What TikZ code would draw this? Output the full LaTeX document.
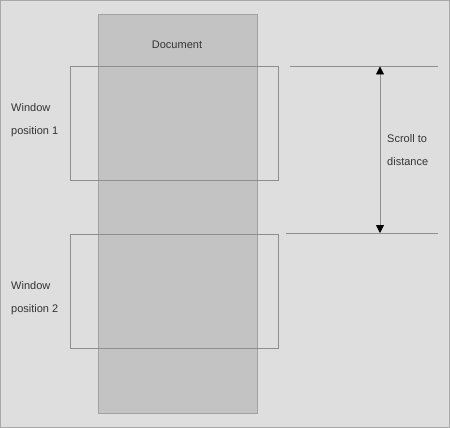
\documentclass[tikz,border=0pt]{standalone}
\usepackage{fontspec}
\setmainfont{Liberation Sans}
\usetikzlibrary{arrows.meta, positioning}

\definecolor{bg}{HTML}{DEDEDE}
\definecolor{frame}{HTML}{A8A8A8}
\definecolor{docfill}{HTML}{C3C3C3}
\definecolor{docline}{HTML}{A2A2A2}
\definecolor{winline}{HTML}{8E8E8E}
\definecolor{txt}{HTML}{333333}

\begin{document}
\begin{tikzpicture}[
    x=1pt, y=-1pt,
    page/.style={draw=frame, fill=bg, line width=1pt},
    doc/.style={draw=docline, fill=docfill, line width=1pt, minimum width=159pt, minimum height=399pt, inner sep=0pt},
    window/.style={draw=winline, line width=0.8pt, minimum width=208pt, minimum height=114pt, inner sep=0pt},
    label/.style={font=\fontsize{11}{23}\selectfont, text=txt, align=left, inner sep=0pt},
    guide/.style={draw=winline, line width=0.8pt},
    measure/.style={guide, {Triangle[length=8pt, width=8pt, fill=black, color=black]}-{Triangle[length=8pt, width=8pt, fill=black, color=black]}}
]
    \useasboundingbox (0,0) rectangle (450,428);
    \draw[page] (0.5,0.5) rectangle (449.5,427.5);

    % 文档
    \node[doc, anchor=north west] (doc) at (98,14) {};
    \node[label, anchor=center] (doctitle) at (177,45) {Document};

    % 窗口位置
    \node[window, anchor=north west] (win1) at (70,66) {};
    \node[window, anchor=north west] (win2) at (70,234) {};

    \node[label, anchor=west] (win1label) at (11,120) {Window\\position 1};
    \node[label, anchor=west] (win2label) at (11,298) {Window\\position 2};

    % 滚动距离
    \coordinate (topa) at (290,66);
    \coordinate (topb) at (438,66);
    \coordinate (bota) at (286,233.5);
    \coordinate (botb) at (438,233.5);
    \coordinate (arrtop) at (380,66.5);
    \coordinate (arrbot) at (380,233);

    \draw[guide] (topa) -- (topb);
    \draw[guide] (bota) -- (botb);
    \draw[measure] (arrtop) -- (arrbot);

    \node[label, anchor=west] (scrolllabel) at (387,150.5) {Scroll to\\distance};
\end{tikzpicture}
\end{document}
